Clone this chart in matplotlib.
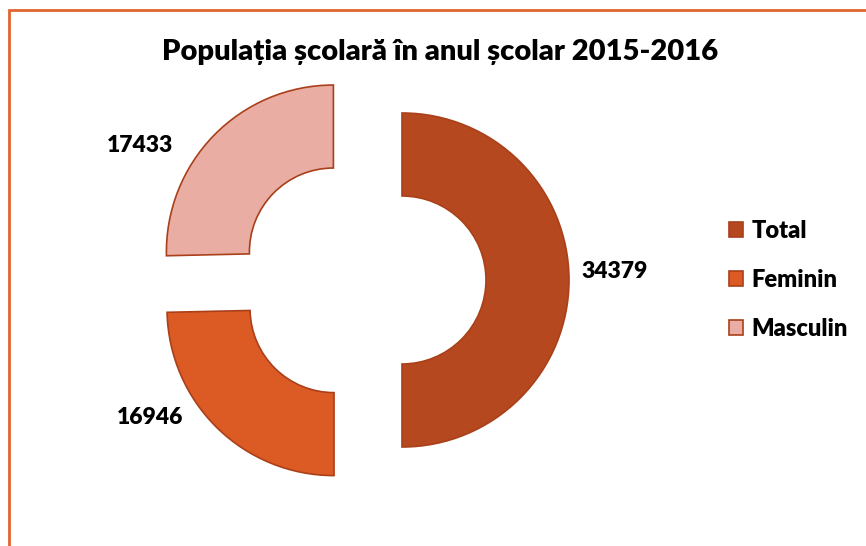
import matplotlib.pyplot as plt
from matplotlib.patches import Rectangle

categories = ['Total', 'Feminin', 'Masculin']
values = [34379, 16946, 17433]
colors = ['#B5481E', '#DC5A24', '#E9ADA3']
title = 'Populația școlară în anul școlar 2015-2016'

plt.rcParams['font.family'] = ['Lato', 'DejaVu Sans']

fig = plt.figure(figsize=(8.66, 5.46), dpi=100)
ax = fig.add_axes([0, 0, 1, 1])
ax.axis('off')

# orange frame, right and bottom sides run off the picture
ax.add_patch(Rectangle((9, -20), 900, 556, fill=False,
                       edgecolor='#E2652F', linewidth=2))

# explode is in data units here (pixels)
wedges, _ = ax.pie(values, center=(362, 266), radius=167, startangle=90,
                   counterclock=False, colors=colors, explode=[40] * 3,
                   wedgeprops=dict(width=83, edgecolor='#A9401A', linewidth=1.2))
ax.set_xlim(0, 866)
ax.set_ylim(0, 546)
ax.set_aspect('auto')

label_pos = [(615, 274), (150, 128), (140, 401)]
for v, (x, y) in zip(values, label_pos):
    ax.text(x, y, str(v), ha='center', va='center', fontsize=16.5,
            fontweight='heavy')

ax.text(440, 494, title, ha='center', va='center', fontsize=21,
        fontweight='heavy')

ax.legend(wedges, categories, loc='center left',
          bbox_to_anchor=(708 / 866, 266 / 546), frameon=False,
          prop=dict(size=17, weight='heavy'), handlelength=0.6,
          handleheight=0.6, labelspacing=1.15, handletextpad=0.35)

fig.savefig('out.png', dpi=100)
